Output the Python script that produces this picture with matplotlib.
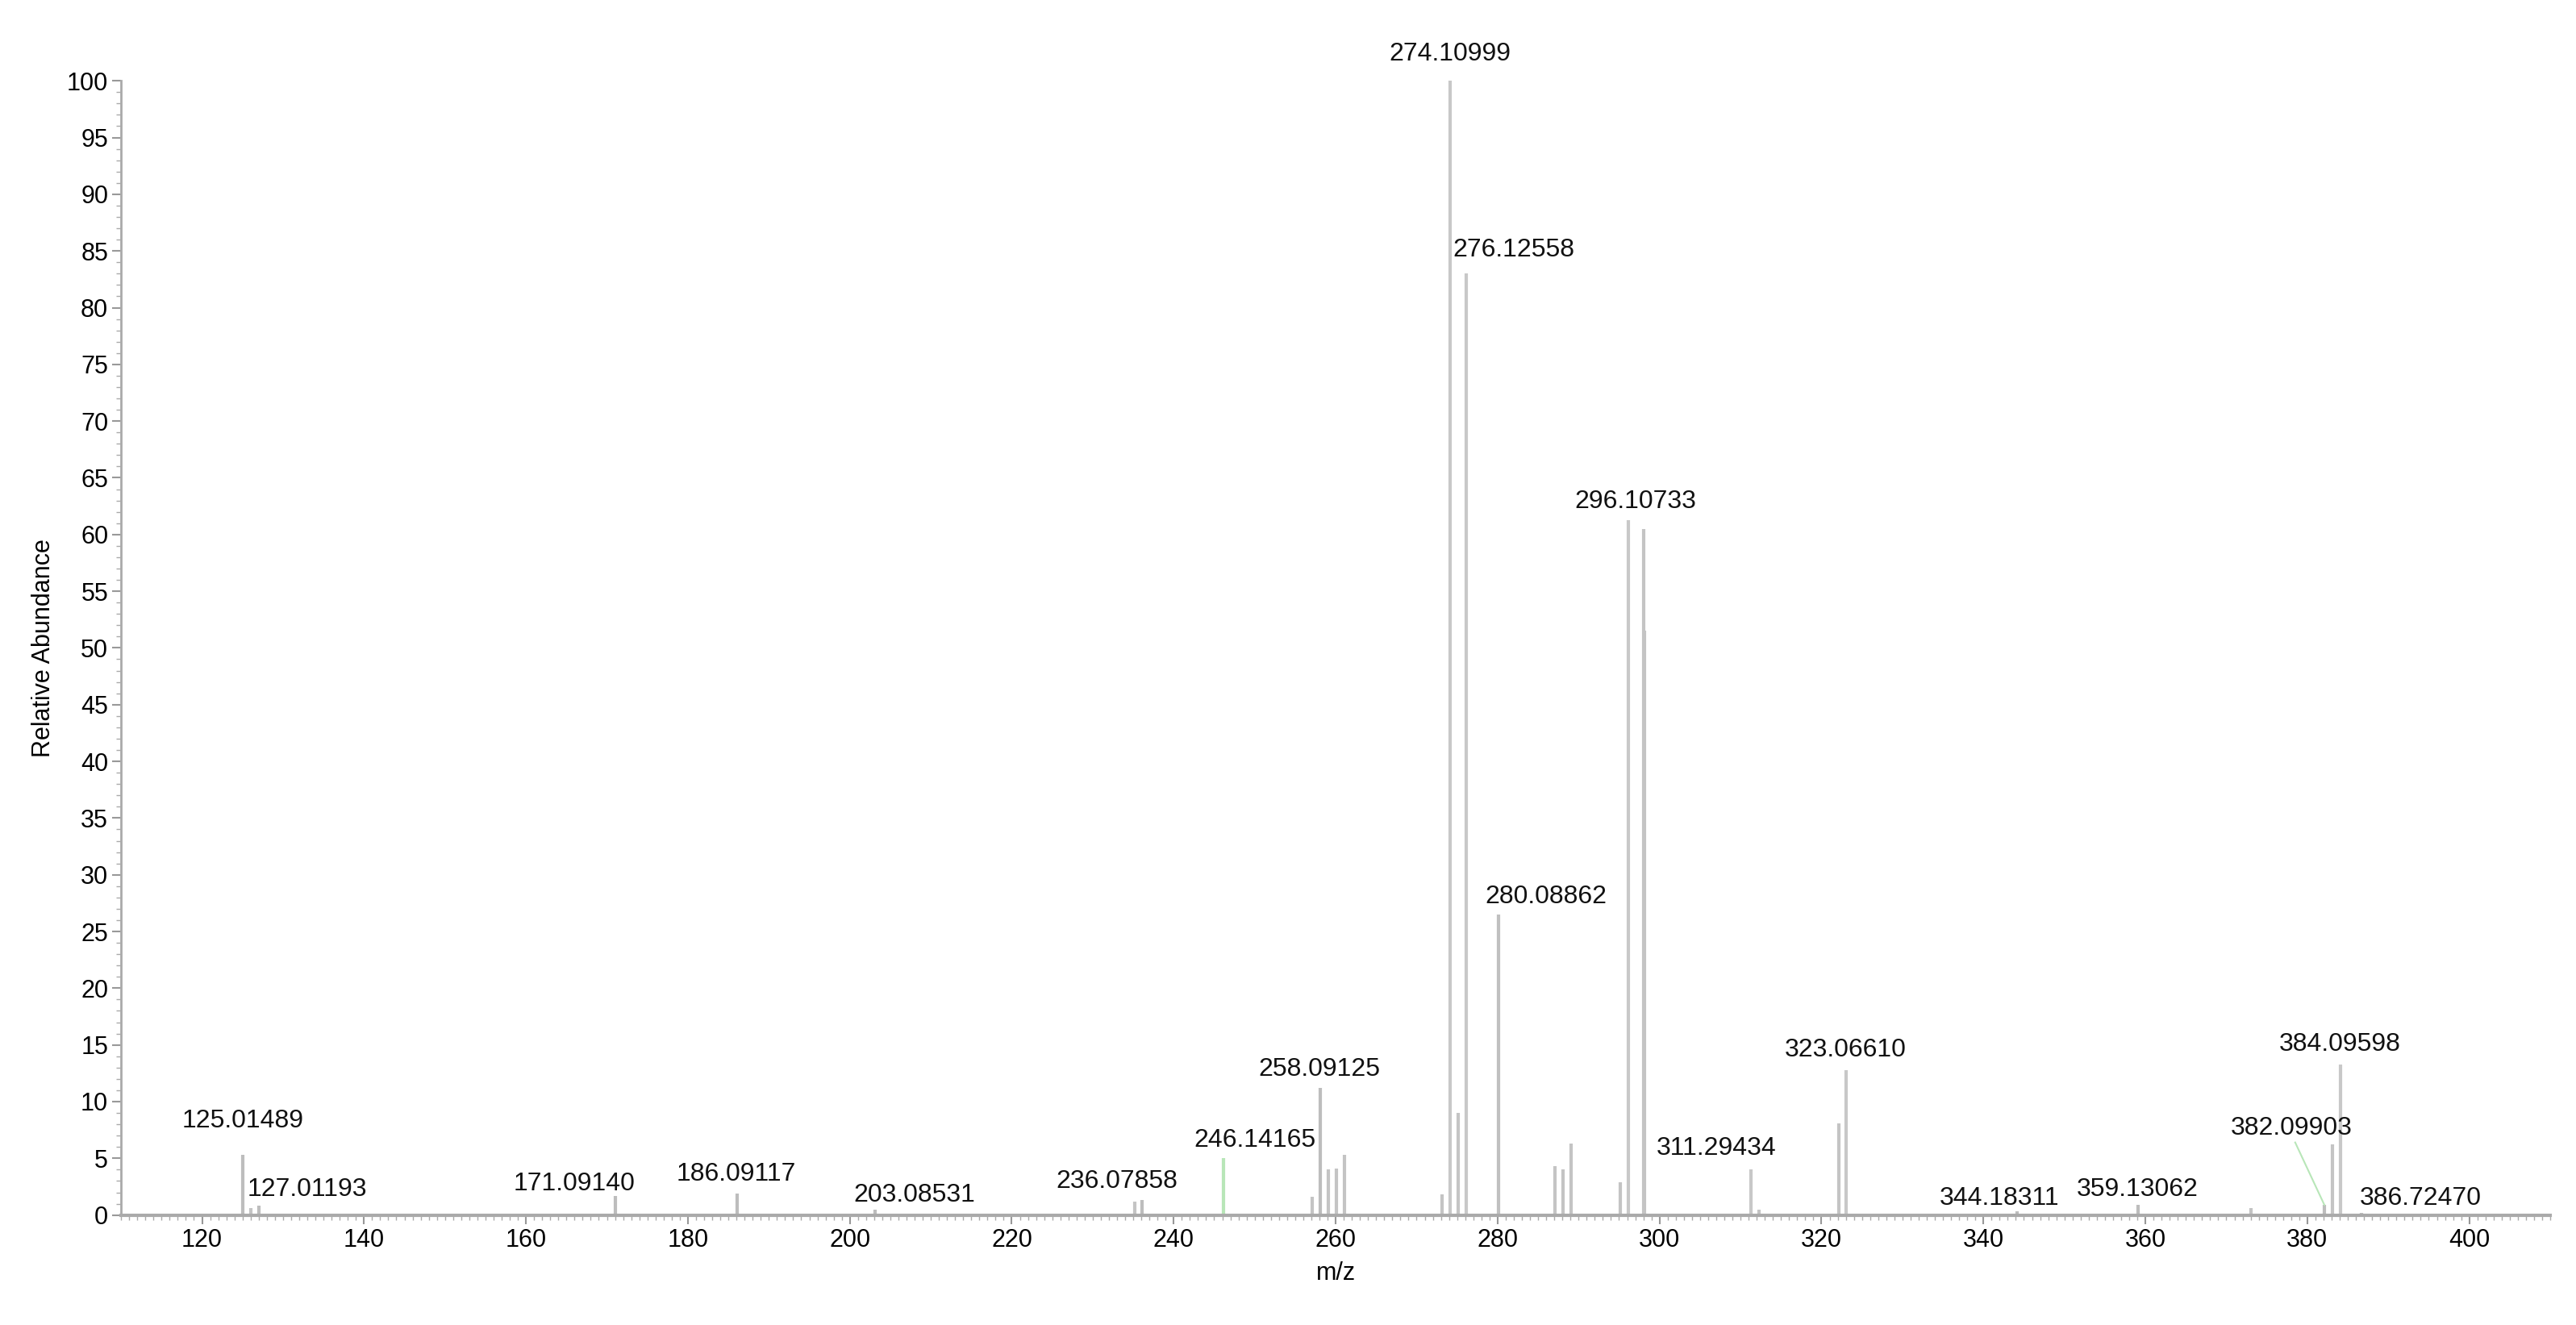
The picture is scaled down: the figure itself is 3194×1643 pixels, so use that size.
import matplotlib
matplotlib.use("Agg")
import matplotlib.pyplot as plt
from matplotlib.ticker import MultipleLocator

plt.rcParams['font.family'] = ['Liberation Sans', 'DejaVu Sans']

# labeled peaks
lab_mz = [125.01489, 127.01193, 171.09140, 186.09117, 203.08531, 236.07858, 246.14165,
          258.09125, 274.10999, 276.12558, 280.08862, 296.10733, 311.29434, 323.06610,
          344.18311, 359.13062, 382.09903, 384.09598, 386.72470]
lab_int = [5.3, 0.8, 1.7, 1.9, 0.5, 1.3, 5.0, 11.2, 100.0, 83.0, 26.5, 61.3, 4.0, 12.8,
           0.3, 0.9, 0.9, 13.3, 0.2]
lab_color = ['#bdbdbd', '#bdbdbd', '#bdbdbd', '#bdbdbd', '#bdbdbd', '#bdbdbd', '#b8e6b8',
             '#bdbdbd', '#c8c8c8', '#c8c8c8', '#c0c0c0', '#c8c8c8', '#c8c8c8', '#c8c8c8',
             '#bdbdbd', '#bdbdbd', '#bdbdbd', '#c8c8c8', '#bdbdbd']
# unlabeled peaks
oth_mz = [126.0, 235.2, 257.1, 259.1, 260.1, 261.1, 273.1, 275.1, 287.1, 288.1, 289.1,
          295.2, 298.0, 298.1, 312.3, 322.1, 373.0, 383.1]
oth_int = [0.6, 1.2, 1.6, 4.0, 4.1, 5.3, 1.8, 9.0, 4.3, 4.0, 6.3, 2.9, 60.5, 51.5, 0.5,
           8.1, 0.6, 6.2]

# label text offsets (x shift in m/z, y position)
lab_pos = {
    '125.01489': (125.0, 7.2), '127.01193': (133.0, 1.2), '171.09140': (166.0, 1.7),
    '186.09117': (186.0, 2.5), '203.08531': (208.0, 0.7), '236.07858': (233.0, 1.9),
    '246.14165': (250.0, 5.5), '258.09125': (258.0, 11.8), '274.10999': (274.1, 101.3),
    '276.12558': (282.0, 84.0), '280.08862': (286.0, 27.0), '296.10733': (297.0, 61.8),
    '311.29434': (307.0, 4.8), '323.06610': (323.0, 13.5), '344.18311': (342.0, 0.4),
    '359.13062': (359.0, 1.2), '382.09903': (378.0, 6.6), '384.09598': (384.0, 14.0),
    '386.72470': (394.0, 0.4),
}

fig = plt.figure(figsize=(31.94, 16.43), dpi=100)
ax = fig.add_axes([0.047, 0.083, 0.943, 0.856])

ax.vlines(oth_mz, 0, oth_int, colors='#c4c4c4', lw=3)
ax.vlines(lab_mz, 0, lab_int, colors=lab_color, lw=3)

for mz, it in zip(lab_mz, lab_int):
    key = f"{mz:.5f}"
    tx, ty = lab_pos[key]
    ax.text(tx, ty, key, ha='center', va='bottom', fontsize=23, color='#111111', clip_on=False)
# leader line for 382.09903
ax.plot([378.5, 382.1], [6.4, 0.9], color='#b8e6b8', lw=1.5)

ax.set_xlim(110, 410)
ax.set_ylim(0, 100)
ax.xaxis.set_major_locator(MultipleLocator(20))
ax.xaxis.set_minor_locator(MultipleLocator(1))
ax.yaxis.set_major_locator(MultipleLocator(5))
ax.yaxis.set_minor_locator(MultipleLocator(1))
ax.set_xticks(range(120, 401, 20))
ax.tick_params(axis='both', which='major', labelsize=22, length=8, width=1.5, color='#999999')
ax.tick_params(axis='both', which='minor', length=4, width=1, color='#aaaaaa')
for s in ['top', 'right']:
    ax.spines[s].set_visible(False)
ax.spines['left'].set_color('#aaaaaa')
ax.spines['bottom'].set_color('#aaaaaa')
ax.spines['left'].set_linewidth(2)
ax.spines['bottom'].set_linewidth(3)
ax.set_xlabel('m/z', fontsize=22, labelpad=8)
ax.set_ylabel('Relative Abundance', fontsize=22, labelpad=10)

fig.savefig('out.png', dpi=100)
